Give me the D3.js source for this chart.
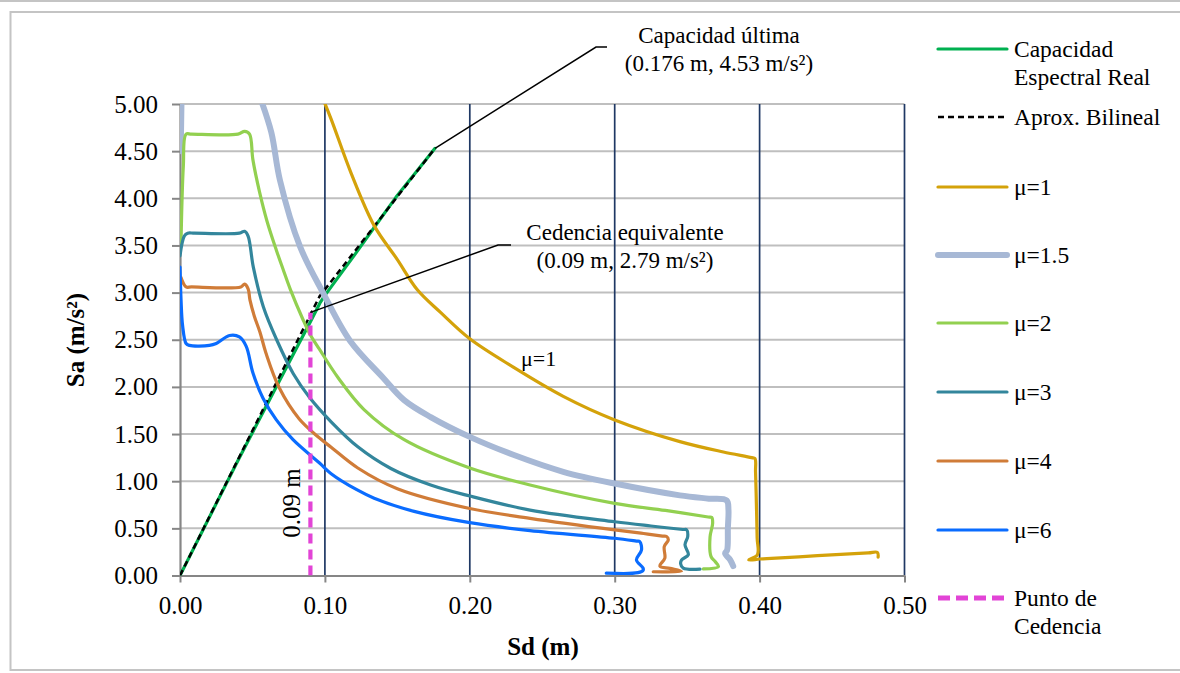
<!DOCTYPE html>
<html>
<head>
<meta charset="utf-8">
<script src="https://cdn.jsdelivr.net/npm/d3@7"></script>
<style>
  body { margin: 0; background: #fff; }
  svg { display: block; }
  text { font-family: "Liberation Serif", "Times New Roman", serif; fill: #000; }
</style>
</head>
<body>
<svg id="chart" width="1180" height="673"></svg>
<script>
// ---- data: spectral displacement Sd (m) vs spectral acceleration Sa (m/s²) ----
const xTickValues = [0, 0.1, 0.2, 0.3, 0.4, 0.5];
const yTickValues = [0, 0.5, 1, 1.5, 2, 2.5, 3, 3.5, 4, 4.5, 5];

const capacityCurve = [[0,0],[0.02,0.61],[0.04,1.22],[0.06,1.81],[0.08,2.40],[0.09,2.69],[0.0966,2.89],[0.10,2.97],[0.12,3.39],[0.134,3.69],[0.149,4.01],[0.162,4.26],[0.176,4.53]];
const bilinearCurve = [[0,0],[0.0963,2.96],[0.176,4.53]];

const demandMu1 = [[0.0985,5.06],[0.1043,4.84],[0.118,4.27],[0.134,3.71],[0.150,3.35],[0.1638,3.03],[0.1798,2.79],[0.200,2.51],[0.230,2.21],[0.2645,1.90],[0.300,1.65],[0.345,1.42],[0.375,1.31],[0.3945,1.25],[0.3968,1.24],[0.3972,1.10],[0.3978,0.75],[0.3983,0.40],[0.3985,0.22],[0.3925,0.165],[0.400,0.175],[0.405,0.178],[0.440,0.21],[0.475,0.24],[0.4813,0.245],[0.4818,0.195]];
const demandMu15 = [[0.0005,4.5],[0.0012,5.2],null,[0.0555,5.06],[0.063,4.70],[0.069,4.19],[0.0828,3.49],[0.099,2.99],[0.1173,2.49],[0.140,2.10],[0.1547,1.86],[0.173,1.68],[0.200,1.47],[0.230,1.28],[0.2645,1.10],[0.300,0.975],[0.345,0.85],[0.365,0.815],[0.3773,0.795],[0.3785,0.70],[0.3781,0.50],[0.3776,0.27],[0.3762,0.235],[0.3797,0.166],[0.3818,0.10]];
const demandMu2 = [[0.0007,3.53],[0.0023,4.34],[0.0042,4.68],[0.008,4.68],[0.040,4.68],[0.0446,4.71],[0.048,4.68],[0.0503,4.41],[0.055,4.06],[0.060,3.76],[0.0665,3.45],[0.0713,3.24],[0.076,3.04],[0.0847,2.72],[0.0893,2.57],[0.0962,2.40],[0.109,2.10],[0.127,1.76],[0.1547,1.44],[0.200,1.14],[0.2416,0.96],[0.300,0.765],[0.335,0.69],[0.3645,0.62],[0.367,0.615],[0.3676,0.555],[0.3658,0.41],[0.3665,0.20],[0.3693,0.148],[0.3716,0.095],[0.3612,0.07]];
const demandMu3 = [[0,3.39],[0.003,3.60],[0.0053,3.63],[0.010,3.63],[0.041,3.63],[0.0446,3.65],[0.047,3.60],[0.0506,3.27],[0.0575,2.85],[0.0667,2.50],[0.0782,2.14],[0.0893,1.89],[0.1043,1.63],[0.1227,1.365],[0.1455,1.135],[0.173,0.96],[0.200,0.843],[0.2416,0.694],[0.300,0.57],[0.325,0.525],[0.347,0.488],[0.3497,0.484],[0.3504,0.413],[0.3485,0.325],[0.3508,0.22],[0.3462,0.166],[0.3455,0.124],[0.3473,0.078],[0.3589,0.067]];
const demandMu4 = [[0.0007,3.16],[0.0042,3.06],[0.008,3.06],[0.042,3.06],[0.0446,3.09],[0.047,3.04],[0.0483,2.92],[0.0513,2.75],[0.0552,2.58],[0.0593,2.36],[0.0685,1.99],[0.0823,1.66],[0.0961,1.46],[0.1043,1.36],[0.1227,1.14],[0.150,0.92],[0.200,0.71],[0.2416,0.606],[0.300,0.483],[0.320,0.445],[0.333,0.418],[0.3358,0.413],[0.337,0.378],[0.3342,0.307],[0.3346,0.184],[0.3312,0.10],[0.3381,0.075],[0.346,0.045],[0.3266,0.04]];
const demandMu6 = [[0,3.27],[0.0007,2.93],[0.0018,2.65],[0.0042,2.46],[0.0065,2.44],[0.0203,2.44],[0.025,2.46],[0.0342,2.545],[0.041,2.53],[0.0457,2.43],[0.0503,2.15],[0.0573,1.88],[0.0665,1.65],[0.078,1.44],[0.0965,1.19],[0.1043,1.08],[0.122,0.91],[0.134,0.82],[0.1616,0.68],[0.200,0.56],[0.2416,0.476],[0.300,0.395],[0.315,0.365],[0.3173,0.36],[0.3185,0.27],[0.315,0.166],[0.3196,0.078],[0.3196,0.055],[0.316,0.03],[0.2942,0.025]];

const yieldSd = 0.09, yieldSa = 2.79;
const ultimateSd = 0.176, ultimateSa = 4.53;
const yieldLine = [[yieldSd, 0], [yieldSd, yieldSa]];

const seriesNames = ["Capacidad Espectral Real", "Aprox. Bilineal", "μ=1", "μ=1.5", "μ=2", "μ=3", "μ=4", "μ=6", "Punto de Cedencia"];
const seriesData = [capacityCurve, bilinearCurve, demandMu1, demandMu15, demandMu2, demandMu3, demandMu4, demandMu6, yieldLine];

// ---- styles per series ----
const seriesStyle = [
  { color: "#00B050", width: 3.2, smooth: false },
  { color: "#000000", width: 2.5, dash: "6,4", smooth: false },
  { color: "#D4A20A", width: 3.2, smooth: true },
  { color: "#A7B8D5", width: 6, smooth: true },
  { color: "#92D050", width: 3.2, smooth: true },
  { color: "#33869C", width: 3.2, smooth: true },
  { color: "#D07C38", width: 3.2, smooth: true },
  { color: "#0A6CFF", width: 3.2, smooth: true },
  { color: "#E244D6", width: 4.2, dash: "10,6", smooth: false }
];

const svg = d3.select("#chart");
const x = d3.scaleLinear().domain([0, 0.5]).range([180, 904.5]);
const y = d3.scaleLinear().domain([0, 5]).range([575.5, 104]);

// writes a label; a leading Greek letter gets its own text node so the
// digits that follow keep the serif face
function placeLabel(parent, str, px, py, size) {
  if (str.startsWith("μ")) {
    const g = parent.append("text").attr("x", px).attr("y", py).attr("font-size", size).text("μ");
    const w = g.node().getComputedTextLength();
    parent.append("text").attr("x", px + w).attr("y", py).attr("font-size", size).text(str.slice(1));
  } else {
    parent.append("text").attr("x", px).attr("y", py).attr("font-size", size).text(str);
  }
}

// outer frame
svg.append("line").attr("x1", 0).attr("x2", 1180).attr("y1", 1).attr("y2", 1)
  .attr("stroke", "#C4C4C4").attr("stroke-width", 2);
svg.append("rect").attr("x", 10.5).attr("y", 12).attr("width", 1180).attr("height", 658)
  .attr("fill", "none").attr("stroke", "#C4C4C4").attr("stroke-width", 2);

// horizontal gridlines
svg.append("g").selectAll("line").data(yTickValues.filter(v => v > 0)).join("line")
  .attr("x1", x(0)).attr("x2", x(0.5)).attr("y1", d => y(d)).attr("y2", d => y(d))
  .attr("stroke", "#BFBFBF").attr("stroke-width", 2);

// vertical gridlines
svg.append("g").selectAll("line").data(xTickValues.filter(v => v > 0)).join("line")
  .attr("x1", d => x(d)).attr("x2", d => x(d)).attr("y1", y(0)).attr("y2", y(5))
  .attr("stroke", "#1F3864").attr("stroke-width", 1.7);

// axes
const fmt = d3.format(".2f");
const gx = svg.append("g").attr("transform", `translate(0,${y(0)})`)
  .call(d3.axisBottom(x).tickValues(xTickValues).tickFormat(fmt).tickSizeOuter(0).tickSizeInner(7).tickPadding(14));
const gy = svg.append("g").attr("transform", `translate(${x(0)},0)`)
  .call(d3.axisLeft(y).tickValues(yTickValues).tickFormat(fmt).tickSizeOuter(0).tickSizeInner(8).tickPadding(14));
[gx, gy].forEach(g => {
  g.select(".domain").attr("stroke", "#868686").attr("stroke-width", 2.2);
  g.selectAll(".tick line").attr("stroke", "#868686").attr("stroke-width", 2);
  g.selectAll(".tick text").attr("font-family", '"Liberation Serif", serif').attr("font-size", 25).attr("fill", "#000");
});
gx.selectAll(".tick text").attr("dy", "0.71em");

// axis titles
svg.append("text").attr("x", 543).attr("y", 655).attr("text-anchor", "middle")
  .attr("font-size", 25).attr("font-weight", "bold").text("Sd (m)");
svg.append("text").attr("transform", "translate(84,340) rotate(-90)").attr("text-anchor", "middle")
  .attr("font-size", 25).attr("font-weight", "bold").text("Sa (m/s²)");

// plotting clip
svg.append("clipPath").attr("id", "plotClip").append("rect")
  .attr("x", x(0)).attr("y", y(5)).attr("width", x(0.5) - x(0)).attr("height", y(0) - y(5));

const plot = svg.append("g").attr("clip-path", "url(#plotClip)");
seriesData.forEach((data, i) => {
  const st = seriesStyle[i];
  const line = d3.line().defined(d => d !== null).x(d => x(d[0])).y(d => y(d[1]))
    .curve(st.smooth ? d3.curveCatmullRom.alpha(0.5) : d3.curveLinear);
  plot.append("path").datum(data).attr("d", line)
    .attr("fill", "none").attr("stroke", st.color).attr("stroke-width", st.width)
    .attr("stroke-dasharray", st.dash || null)
    .attr("stroke-linejoin", "round").attr("stroke-linecap", st.dash ? "butt" : "round");
});

// rotated label beside the yield line
svg.append("text").attr("transform", `translate(${x(yieldSd) - 10},503) rotate(-90)`)
  .attr("text-anchor", "middle").attr("font-size", 25).text(yieldSd.toFixed(2) + " m");

// label inside the plot for μ=1
placeLabel(svg, seriesNames[2], 521, 366, 22);

// callouts
const callouts = [
  { sd: ultimateSd, sa: ultimateSa, elbow: [596, 47], end: [607, 47], cx: 719, lines: ["Capacidad última", `(${ultimateSd} m, ${ultimateSa} m/s²)`], y0: 43 },
  { sd: yieldSd, sa: yieldSa, elbow: [498, 245], end: [511, 245], cx: 625, lines: ["Cedencia equivalente", `(${yieldSd} m, ${yieldSa} m/s²)`], y0: 240 }
];
callouts.forEach(c => {
  svg.append("polyline")
    .attr("points", [[x(c.sd), y(c.sa)], c.elbow, c.end].map(p => p.join(",")).join(" "))
    .attr("fill", "none").attr("stroke", "#000").attr("stroke-width", 1.5);
  c.lines.forEach((t, j) => {
    svg.append("text").attr("x", c.cx).attr("y", c.y0 + j * 28)
      .attr("text-anchor", "middle").attr("font-size", 23).text(t);
  });
});

// legend
const legendRows = [49, 117, 187, 255, 323, 392, 461, 530, 598];
const legendLabels = [["Capacidad", "Espectral Real"], ["Aprox. Bilineal"], ["μ=1"], ["μ=1.5"], ["μ=2"], ["μ=3"], ["μ=4"], ["μ=6"], ["Punto de", "Cedencia"]];
const legend = svg.append("g");
seriesNames.forEach((name, i) => {
  const st = seriesStyle[i];
  const ly = legendRows[i];
  legend.append("line").attr("x1", 938).attr("x2", 1007).attr("y1", ly).attr("y2", ly)
    .attr("stroke", st.color).attr("stroke-width", i === 8 ? 5 : st.width)
    .attr("stroke-dasharray", i === 8 ? "12,6" : (st.dash || null))
    .attr("stroke-linecap", st.dash ? "butt" : "round");
  legendLabels[i].forEach((t, j) => placeLabel(legend, t, 1014, ly + 8 + j * 28, 23.5));
});
</script>
</body>
</html>
